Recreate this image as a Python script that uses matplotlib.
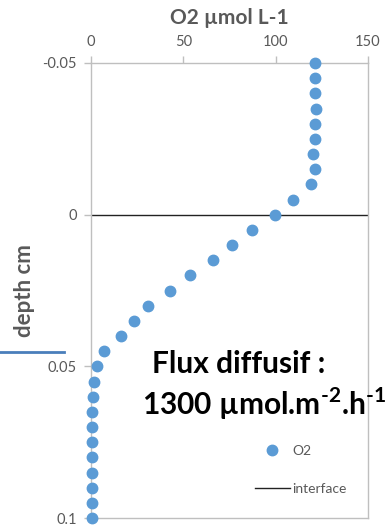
import matplotlib
matplotlib.use("Agg")
import matplotlib.pyplot as plt
from matplotlib.lines import Line2D

plt.rcParams['font.family'] = ['Lato', 'DejaVu Sans']
plt.rcParams['mathtext.fontset'] = 'custom'
plt.rcParams['mathtext.rm'] = 'Lato:bold'
plt.rcParams['mathtext.bf'] = 'Lato:bold'

# Données
depth = [-0.05, -0.045, -0.04, -0.035, -0.03, -0.025, -0.02, -0.015, -0.01, -0.005,
         0.0, 0.005, 0.01, 0.015, 0.02, 0.025, 0.03, 0.035, 0.04, 0.045,
         0.05, 0.055, 0.06, 0.065, 0.07, 0.075, 0.08, 0.085, 0.09, 0.095, 0.1]
o2 = [121.5, 121.3, 121.3, 121.7, 121.3, 121.3, 120.3, 121.3, 119.0, 109.5,
      99.5, 87.0, 76.6, 65.8, 53.4, 42.6, 30.8, 23.2, 16.2, 7.0,
      3.2, 1.5, 1.0, 0.5, 0.4, 0.4, 0.4, 0.4, 0.4, 0.4, 0.4]
interface_x = [0, 150]
interface_y = [0, 0]

x_ticks = [0, 50, 100, 150]
y_ticks = [-0.05, 0, 0.05, 0.1]
y_tick_labels = ["-0.05", "0", "0.05", "0.1"]

gris = "#595959"
gris_axe = "#bfbfbf"

fig = plt.figure(figsize=(3.85, 5.25), dpi=100)
ax = fig.add_axes([91 / 385, 1 - 518 / 525, (368 - 91) / 385, (518 - 63) / 525])

ax.plot(interface_x, interface_y, color="#222222", lw=1.0, label="interface", zorder=2)
ax.plot(o2, depth, ls="none", marker="o", ms=7.5, color="#5b9bd5", label="O2",
        clip_on=False, zorder=3)

ax.set_xlim(0, 150)
ax.set_ylim(0.1, -0.05)
ax.xaxis.tick_top()
ax.set_xticks(x_ticks)
ax.set_yticks(y_ticks)
ax.set_yticklabels(y_tick_labels)
ax.tick_params(colors=gris_axe, labelcolor=gris, labelsize=10.5, length=5, width=1,
               direction="out", pad=5)
for s in ax.spines.values():
    s.set_color(gris_axe)
    s.set_linewidth(1)

# Titres
fig.text(229.5 / 385, 1 - 18 / 525, "O2 µmol L-1", ha="center", va="center",
         fontsize=15, fontweight="bold", color=gris)
fig.text(25 / 385, 1 - 291 / 525, "depth cm", ha="center", va="center",
         rotation=90, fontsize=16, fontweight="bold", color=gris)

# Texte du flux
fig.text(152 / 385, 1 - 373 / 525, "Flux diffusif :", ha="left", va="baseline",
         fontsize=21.5, fontweight="bold", color="black")
fig.text(142 / 385, 1 - 415 / 525, "1300 µmol.m$^{\\text{-2}}$.h$^{\\text{-1}}$",
         ha="left", va="baseline", fontsize=21.5, fontweight="bold", color="black")

# Trait bleu à gauche
fig.add_artist(Line2D([0, 64 / 385], [1 - 352 / 525, 1 - 352 / 525],
                      transform=fig.transFigure, color="#4a7ebb", lw=2))

# Légende
handles, labels = ax.get_legend_handles_labels()
leg = fig.legend(handles[::-1], labels[::-1], loc="center left",
                 bbox_to_anchor=(255 / 385, 1 - 470 / 525), frameon=False, fontsize=10,
                 labelcolor=gris, handlelength=2.5, handletextpad=0.2,
                 labelspacing=1.85, borderpad=0, borderaxespad=0)

fig.savefig("out.png", dpi=100)
